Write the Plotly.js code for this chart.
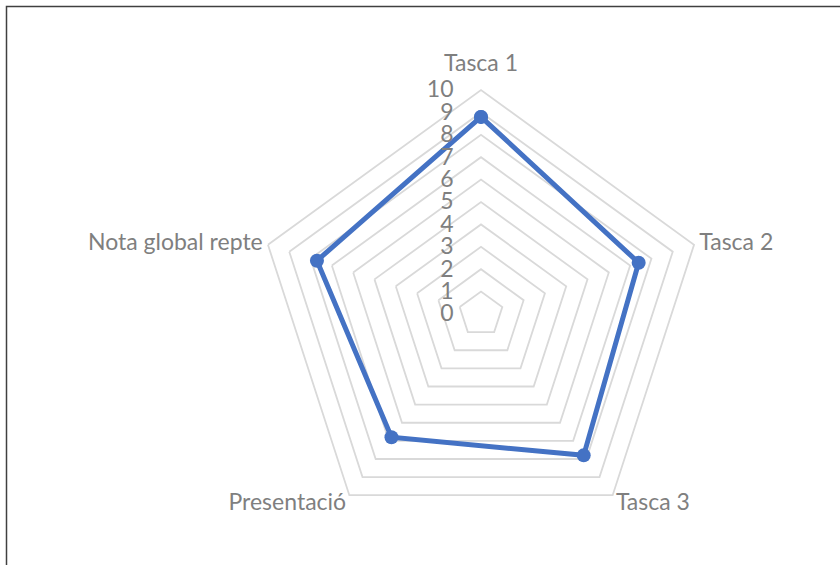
<!DOCTYPE html>
<html>
<head>
<meta charset="utf-8">
<script src="https://cdn.plot.ly/plotly-3.0.1.min.js"></script>
<style>html,body{margin:0;padding:0;background:#fff;}#chart{width:840px;height:565px;}</style>
</head>
<body>
<div id="chart"></div>
<script>
const categories = ["Tasca 1", "Tasca 2", "Tasca 3", "Presentació", "Nota global repte"];
const values = [8.8, 7.4, 7.8, 6.8, 7.7];
const tickVals = [0, 1, 2, 3, 4, 5, 6, 7, 8, 9, 10];
const tickText = ["0", "1", "2", "3", "4", "5", "6", "7", "8", "9", "10"];

const W = 840, H = 565;
const cx = 481, cy = 314, R = 224;
const labelShift = {"Tasca 1": -9, "Tasca 2": 1, "Tasca 3": -13, "Presentació": -13, "Nota global repte": 1};

const trace = {
  type: "scatterpolar",
  r: values.concat([values[0]]),
  theta: categories.concat([categories[0]]),
  mode: "lines+markers",
  line: {color: "#4472c4", width: 5},
  marker: {color: "#4472c4", size: 14},
  hoverinfo: "none",
  showlegend: false
};

const layout = {
  width: W, height: H,
  margin: {l: 0, r: 0, t: 0, b: 0},
  paper_bgcolor: "#ffffff",
  plot_bgcolor: "#ffffff",
  font: {family: "Lato, Liberation Sans, Arial, sans-serif", color: "#7f7f7f", size: 23},
  polar: {
    domain: {x: [(cx - R) / W, (cx + R) / W], y: [(H - cy - R) / H, (H - cy + R) / H]},
    gridshape: "linear",
    bgcolor: "rgba(0,0,0,0)",
    radialaxis: {
      range: [0, 10],
      tickvals: tickVals,
      ticktext: tickText.map(t => t + "\u00a0\u00a0\u00a0\u00a0"),
      angle: 90,
      side: "counterclockwise",
      tickangle: 90,
      showline: false,
      ticks: "",
      gridcolor: "#d9d9d9",
      gridwidth: 1.8,
      tickfont: {size: 23, color: "#7f7f7f"}
    },
    angularaxis: {
      rotation: 90,
      direction: "clockwise",
      showgrid: false,
      showline: true,
      linecolor: "#d9d9d9",
      linewidth: 1.8,
      ticks: "",
      tickfont: {size: 23, color: "#7f7f7f"}
    }
  },
  shapes: [{
    type: "rect", xref: "paper", yref: "paper",
    x0: 6.5 / W, x1: 1.05, y0: -0.05, y1: (H - 6.5) / H,
    line: {color: "#404040", width: 1.5}
  }]
};

Plotly.newPlot("chart", [trace], layout, {displayModeBar: false, staticPlot: true}).then(function (gd) {
  gd.querySelectorAll("g.angularaxistick text").forEach(function (t) {
    const dy = labelShift[t.textContent];
    if (dy) {
      const prev = t.getAttribute("transform") || "";
      t.setAttribute("transform", "translate(0," + dy + ") " + prev);
    }
  });
});
</script>
</body>
</html>
